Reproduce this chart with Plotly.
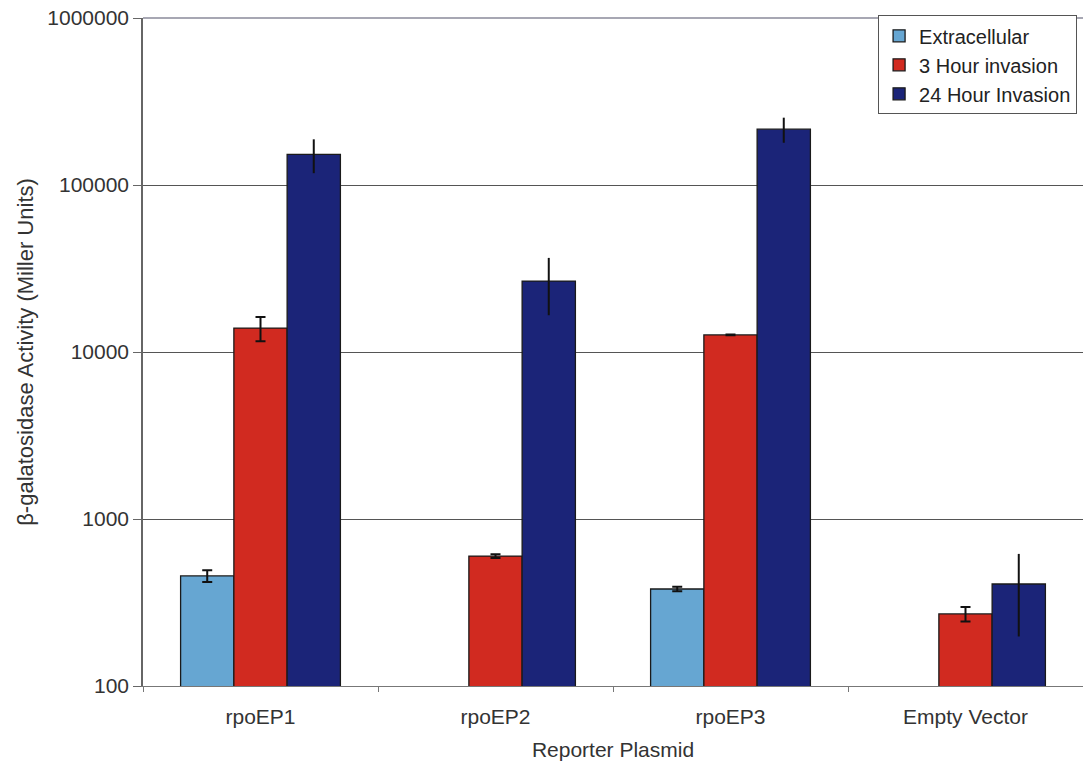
import plotly.graph_objects as go

categories = ["rpoEP1", "rpoEP2", "rpoEP3", "Empty Vector"]
series_names = ["Extracellular", "3 Hour invasion", "24 Hour Invasion"]

extracellular = [456, None, 381, None]
extracellular_err = [37, None, 12, None]
hour3 = [13900, 600, 12650, 270]
hour3_err = [2300, 15, 60, 27]
hour24 = [152700, 26600, 216000, 408]
hour24_err = [35000, 10000, 37000, 210]

tick_vals = [100, 1000, 10000, 100000, 1000000]
tick_text = ["100", "1000", "10000", "100000", "1000000"]

colors = ["#66a6d2", "#d12a20", "#1b2478"]
caps = [5, 5, 0]

fig = go.Figure()
for name, vals, errs, col, cap in zip(series_names,
                                       [extracellular, hour3, hour24],
                                       [extracellular_err, hour3_err, hour24_err],
                                       colors, caps):
    fig.add_trace(go.Bar(
        x=categories, y=vals, name=name,
        marker=dict(color=col, line=dict(color="#1a1a1a", width=1.3)),
        error_y=dict(type="data", array=errs, visible=True,
                     color="#111111", thickness=2, width=cap),
    ))

fig.add_shape(type="line", xref="paper", yref="paper", x0=0, x1=1, y0=1, y1=1,
              line=dict(color="#8a8a9a", width=1.5))

fig.update_layout(
    width=1083, height=764,
    margin=dict(l=143, r=0, t=18, b=78),
    paper_bgcolor="white", plot_bgcolor="white",
    barmode="group", bargap=0.32, bargroupgap=0,
    font=dict(family="Liberation Sans, Arial, sans-serif", size=20, color="#333333"),
    showlegend=True,
    legend=dict(x=0.782, y=1.004, xanchor="left", yanchor="top",
                bgcolor="white", bordercolor="#555555", borderwidth=1,
                font=dict(size=20, color="#222222"),
                tracegroupgap=2, itemwidth=30),
    xaxis=dict(
        title=dict(text="Reporter Plasmid", font=dict(size=21), standoff=15),
        showline=True, linecolor="#777777", linewidth=1,
        ticks="outside", tickson="boundaries", ticklen=5, tickcolor="#777777",
        tickfont=dict(size=21), ticklabelstandoff=12,
    ),
    yaxis=dict(
        type="log", range=[2, 6],
        title=dict(text="β-galatosidase Activity (Miller Units)", font=dict(size=22), standoff=8),
        tickvals=tick_vals, ticktext=tick_text,
        showgrid=True, gridcolor="#555555", gridwidth=1,
        showline=True, linecolor="#666666", linewidth=1.5,
        ticks="outside", ticklen=8, tickcolor="#666666",
        tickfont=dict(size=21),
        zeroline=False,
    ),
)

fig.write_html("out.html")
